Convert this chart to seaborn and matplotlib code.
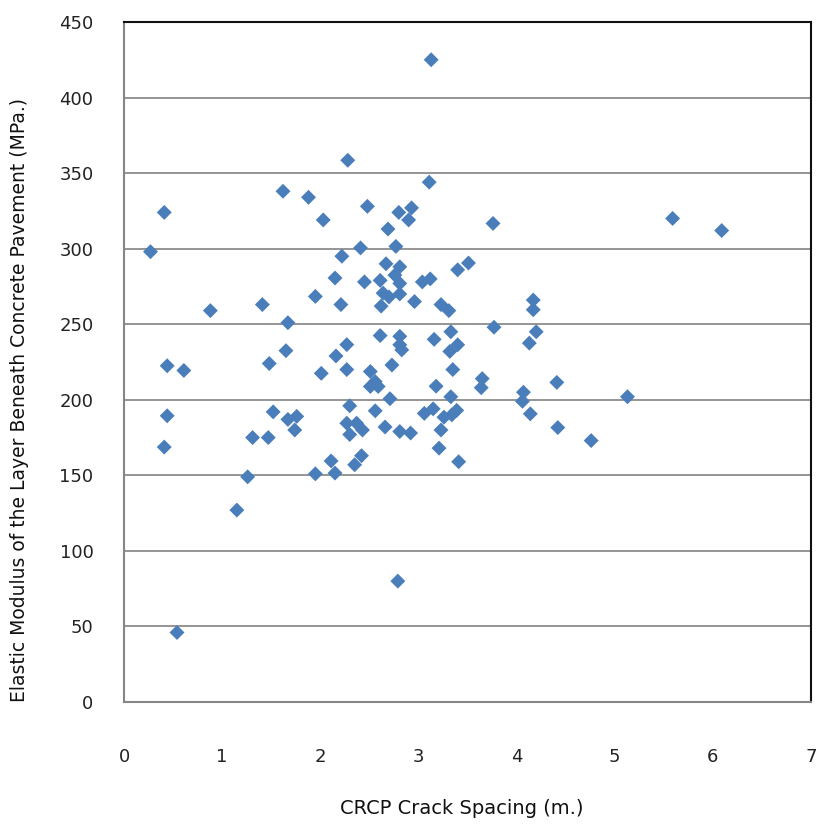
import matplotlib
matplotlib.use("Agg")
import matplotlib.pyplot as plt
import seaborn as sns
import pandas as pd

# CRCP crack spacing (m.)
crack_spacing = [
    0.27, 0.41, 0.44, 0.61, 0.44, 0.41, 0.54, 0.88, 1.15, 1.26,
    1.31, 1.41, 1.47, 1.48, 1.52, 1.62, 1.65, 1.67, 1.67, 1.74,
    1.76, 1.88, 1.95, 1.95, 2.01, 2.03,
    2.11, 2.15, 2.15, 2.16, 2.21, 2.22, 2.28, 2.27, 2.27, 2.30,
    2.27, 2.37, 2.43, 2.30, 2.35, 2.42, 2.41, 2.45, 2.48, 2.51, 2.51,
    2.56, 2.59, 2.56, 2.61, 2.61, 2.62, 2.64, 2.66, 2.67, 2.69,
    2.70, 2.71, 2.73, 2.76, 2.77, 2.79, 2.80, 2.81, 2.81, 2.81,
    2.81, 2.81, 2.83, 2.81, 2.90, 2.92, 2.93, 2.96,
    3.04, 3.06, 3.11, 3.12, 3.13, 3.15, 3.16, 3.18, 3.21, 3.23,
    3.23, 3.26, 3.31, 3.32, 3.33, 3.33, 3.34, 3.35, 3.39, 3.40,
    3.40, 3.41, 3.51, 3.64, 3.65, 3.76, 3.77, 4.06, 4.07, 4.13,
    4.14, 4.17, 4.17, 4.20, 4.41, 4.42, 4.76, 5.13, 5.59, 6.09,
]

# Elastic modulus of the layer beneath concrete pavement (MPa.)
elastic_modulus = [
    298, 324, 222.5, 219.4, 189.4, 168.7, 46, 259, 127, 149,
    175, 263, 175, 224, 192, 338, 232.5, 251, 187, 180,
    189, 334, 268.4, 151, 217.5, 319,
    159.5, 151.5, 280.6, 229, 263, 295, 358.5, 236.5, 220, 196,
    184.5, 184.5, 180, 177, 157, 163, 300.5, 278, 328, 218.7, 208.8,
    212, 208.8, 192.7, 279, 242.5, 262, 270.6, 182, 290, 313,
    268, 200.7, 223, 282.5, 301.5, 80, 324, 288, 277, 270,
    242, 236.4, 233, 179, 319, 178, 327, 265,
    278, 191, 344, 280, 425, 194, 240, 209, 168, 263,
    180, 188.5, 259, 232, 245, 202, 190, 220, 193, 236.4,
    286, 159, 290.5, 208, 214, 316.7, 248, 199, 205, 237.5,
    190.7, 266, 259.6, 245, 211.5, 181.6, 173, 202, 320, 312,
]

x_ticks = [0, 1, 2, 3, 4, 5, 6, 7]
y_ticks = [0, 50, 100, 150, 200, 250, 300, 350, 400, 450]

df = pd.DataFrame({"spacing": crack_spacing, "modulus": elastic_modulus})

sns.set_theme(style="white")
plt.rcParams["font.family"] = ["DejaVu Sans"]

fig = plt.figure(figsize=(8.17, 8.26), dpi=100)
ax = fig.add_axes([124 / 817, 124 / 826, (811 - 124) / 817, (804 - 124) / 826])

sns.scatterplot(data=df, x="spacing", y="modulus", marker="D", s=58,
                color="#4A7EBB", edgecolor="none", linewidth=0, ax=ax, zorder=3)

ax.set_xlim(0, 7)
ax.set_ylim(0, 450)
ax.set_xticks(x_ticks)
ax.set_yticks(y_ticks)
ax.set_xticklabels([str(v) for v in x_ticks], fontsize=13, color="#222222")
ax.set_yticklabels([str(v) for v in y_ticks], fontsize=13, color="#222222")
ax.tick_params(axis="x", length=0, pad=33)
ax.tick_params(axis="y", length=0, pad=22)

for yv in y_ticks[1:-1]:
    ax.axhline(yv, color="#8c8c8c", linewidth=1.3, zorder=1)

ax.spines["left"].set_color("#868686")
ax.spines["bottom"].set_color("#868686")
ax.spines["left"].set_linewidth(1.5)
ax.spines["bottom"].set_linewidth(1.5)
ax.spines["top"].set_color("#111111")
ax.spines["right"].set_color("#111111")
ax.spines["top"].set_linewidth(1.5)
ax.spines["right"].set_linewidth(1.5)

ax.set_xlabel("CRCP Crack Spacing (m.)", fontsize=14, color="#111111")
ax.set_ylabel("Elastic Modulus of the Layer Beneath Concrete Pavement (MPa.)",
              fontsize=13.5, color="#111111")
ax.xaxis.set_label_coords((462 - 124) / 687, -(808 - 702) / 680)
ax.xaxis.label.set_va("center")
ax.yaxis.set_label_coords(-(124 - 20) / 687, (702 - 400) / 680)
ax.yaxis.label.set_va("center")

fig.savefig("out.png", dpi=100)
